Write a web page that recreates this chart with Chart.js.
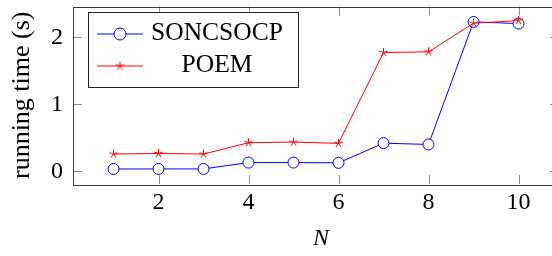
<!DOCTYPE html>
<html>
<head>
<meta charset="utf-8">
<script src="https://cdn.jsdelivr.net/npm/chart.js@4/dist/chart.umd.min.js"></script>
<style>
  html, body { margin: 0; padding: 0; background: #fff; overflow: hidden; }
  #wrap { width: 552px; height: 256px; overflow: hidden; }
  canvas { display: block; }
</style>
</head>
<body>
<div id="wrap"><canvas id="c" width="570" height="256" style="width:570px;height:256px"></canvas></div>
<script>
// ---- data ----
const nValues = [1, 2, 3, 4, 5, 6, 7, 8, 9, 10];
const soncsocpTimes = [0.034, 0.035, 0.035, 0.13, 0.13, 0.126, 0.42, 0.40, 2.23, 2.205];
const poemTimes = [0.257, 0.266, 0.257, 0.426, 0.436, 0.417, 1.773, 1.783, 2.21, 2.25];
const seriesNames = ['SONCSOCP', 'POEM'];
const xTickValues = [2, 4, 6, 8, 10];
const yTickValues = [0, 1, 2];
const xAxisTitle = 'N';
const yAxisTitle = 'running time (s)';

const SERIF = '"Liberation Serif", "DejaVu Serif", serif';

// 5-armed asterisk marker (pgfplots "star")
function makeStar(color, r) {
  const s = Math.ceil(r * 2 + 4);
  const cv = document.createElement('canvas');
  cv.width = s; cv.height = s;
  const c = cv.getContext('2d');
  c.strokeStyle = color; c.lineWidth = 1;
  c.beginPath();
  for (let k = 0; k < 5; k++) {
    const a = -Math.PI / 2 + k * 2 * Math.PI / 5;
    c.moveTo(s / 2, s / 2);
    c.lineTo(s / 2 + r * Math.cos(a), s / 2 + r * Math.sin(a));
  }
  c.stroke();
  return cv;
}
const starImg = makeStar('#ff0000', 4.5);

const toXY = (ys) => nValues.map((x, i) => ({ x: x, y: ys[i] }));

const framePlugin = {
  id: 'frame',
  afterDatasetsDraw(chart) {
    const { ctx, chartArea: a, scales: { x, y } } = chart;
    ctx.save();
    const tl = 9;
    ctx.strokeStyle = '#8c8c8c';
    ctx.lineWidth = 1;
    ctx.beginPath();
    xTickValues.forEach(v => {
      const px = Math.round(x.getPixelForValue(v)) + 0.5;
      ctx.moveTo(px, a.bottom); ctx.lineTo(px, a.bottom - tl);
      ctx.moveTo(px, a.top); ctx.lineTo(px, a.top + tl);
    });
    yTickValues.forEach(v => {
      const py = Math.round(y.getPixelForValue(v)) + 0.5;
      ctx.moveTo(a.left, py); ctx.lineTo(a.left + tl, py);
      ctx.moveTo(a.right, py); ctx.lineTo(a.right - tl, py);
    });
    ctx.stroke();
    ctx.strokeStyle = '#3a3a3a';
    ctx.strokeRect(Math.round(a.left) + 0.5, Math.round(a.top) + 0.5,
                   Math.round(a.right - a.left), Math.round(a.bottom - a.top));

    // x axis title (pgfplots places it slightly right of the axis centre here)
    ctx.fillStyle = '#000';
    ctx.font = 'italic 24px ' + SERIF;
    ctx.textAlign = 'center';
    ctx.textBaseline = 'middle';
    ctx.fillText(xAxisTitle, (a.left + a.right) / 2 + 5, 239);

    // legend
    const lx = a.left + 15, ly = a.top + 5, lw = 210, lh = 75;
    ctx.fillStyle = '#fff';
    ctx.fillRect(lx, ly, lw, lh);
    ctx.strokeStyle = '#222';
    ctx.strokeRect(Math.round(lx) + 0.5, Math.round(ly) + 0.5, lw, lh);
    const rows = [ly + 22, ly + 54];
    const ds = chart.data.datasets;
    ds.forEach((d, i) => {
      const cy = rows[i] + 0.5;
      ctx.strokeStyle = d.borderColor;
      ctx.lineWidth = 1;
      ctx.beginPath();
      ctx.moveTo(lx + 9, cy); ctx.lineTo(lx + 55, cy);
      ctx.stroke();
      const mx = lx + 32;
      if (d.pointStyle === 'circle') {
        ctx.beginPath();
        ctx.arc(mx, cy, 6, 0, Math.PI * 2);
        ctx.fillStyle = '#fff'; ctx.fill();
        ctx.stroke();
      } else {
        ctx.drawImage(starImg, mx - starImg.width / 2, cy - starImg.height / 2);
      }
      ctx.fillStyle = '#000';
      ctx.font = '25.5px ' + SERIF;
      ctx.textAlign = 'center';
      ctx.textBaseline = 'middle';
      ctx.fillText(d.label, lx + 129, cy - 1);
    });
    ctx.restore();
  }
};

new Chart(document.getElementById('c'), {
  type: 'line',
  data: {
    datasets: [
      {
        label: seriesNames[0],
        data: toXY(soncsocpTimes),
        borderColor: '#0000ff',
        backgroundColor: '#ffffff',
        borderWidth: 1,
        pointStyle: 'circle',
        pointRadius: 5.5,
        pointBorderWidth: 1,
        pointBorderColor: '#0000ff',
        pointBackgroundColor: '#ffffff',
        tension: 0,
        order: 2
      },
      {
        label: seriesNames[1],
        data: toXY(poemTimes),
        borderColor: '#ff0000',
        backgroundColor: '#ff0000',
        borderWidth: 1,
        pointStyle: starImg,
        pointRadius: 5,
        tension: 0,
        order: 1
      }
    ]
  },
  options: {
    responsive: false,
    animation: false,
    devicePixelRatio: 1,
    layout: { padding: { left: 0, top: 2, right: 11, bottom: 0 } },
    plugins: { legend: { display: false }, tooltip: { enabled: false } },
    scales: {
      x: {
        type: 'linear',
        min: 0.1, max: 10.9,
        grid: { display: false, drawTicks: false },
        border: { display: false },
        afterBuildTicks: (s) => { s.ticks = xTickValues.map(v => ({ value: v })); },
        ticks: { padding: 4, color: '#000', font: { family: SERIF, size: 24 }, maxRotation: 0 },
        title: { display: false },
        afterFit: (s) => { s.height = 72; s.paddingLeft = 0; s.paddingRight = 0; }
      },
      y: {
        type: 'linear',
        min: -0.19, max: 2.46,
        grid: { display: false, drawTicks: false },
        border: { display: false },
        afterBuildTicks: (s) => { s.ticks = yTickValues.map(v => ({ value: v })); },
        ticks: { padding: 10, color: '#000', font: { family: SERIF, size: 24 } },
        title: { display: true, text: yAxisTitle, color: '#000',
                 font: { family: SERIF, size: 26 }, padding: { top: 7, bottom: 0 } },
        afterFit: (s) => { s.width = 73; s.paddingTop = 0; s.paddingBottom = 0; }
      }
    }
  },
  plugins: [framePlugin]
});
</script>
</body>
</html>
